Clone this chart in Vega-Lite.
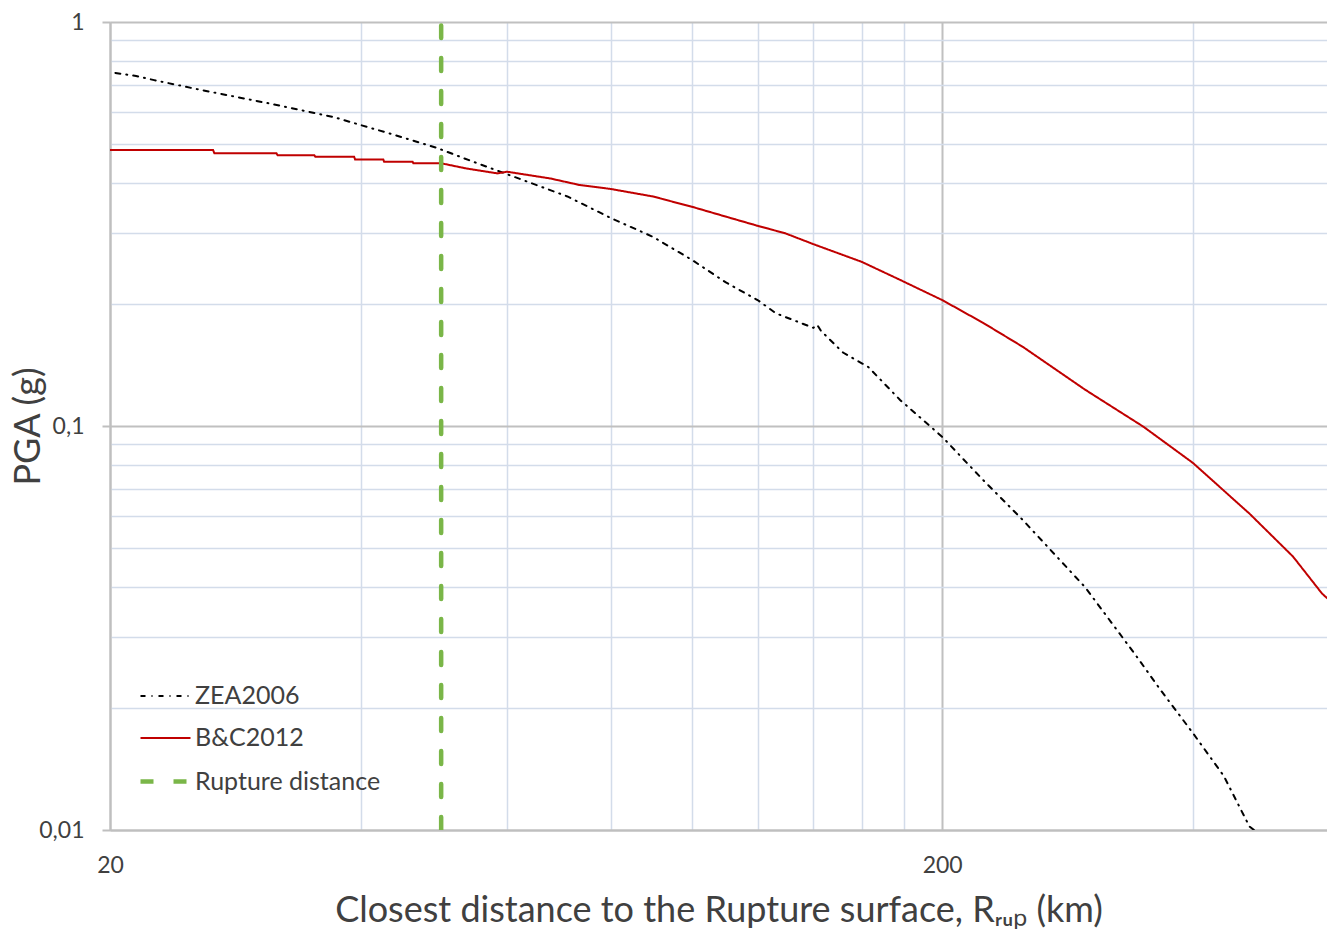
{
  "$schema": "https://vega.github.io/schema/vega-lite/v6.json",
  "width": 1217,
  "height": 808,
  "autosize": {"type": "none"},
  "padding": {"left": 110, "top": 22, "right": 0, "bottom": 99},
  "background": "white",
  "config": {"view": {"stroke": null}, "legend": {"rowPadding": 3}},
  "data": {"values": [
    {"s":"ZEA2006","d":20.3,"p":0.748},{"s":"ZEA2006","d":21.5,"p":0.735},{"s":"ZEA2006","d":22.6,"p":0.718},
    {"s":"ZEA2006","d":25.7,"p":0.679},{"s":"ZEA2006","d":30.9,"p":0.63},{"s":"ZEA2006","d":37.1,"p":0.582},
    {"s":"ZEA2006","d":40,"p":0.556},{"s":"ZEA2006","d":44,"p":0.525},{"s":"ZEA2006","d":49.4,"p":0.488},
    {"s":"ZEA2006","d":54,"p":0.455},{"s":"ZEA2006","d":60,"p":0.42},{"s":"ZEA2006","d":70.9,"p":0.37},
    {"s":"ZEA2006","d":80,"p":0.327},{"s":"ZEA2006","d":89.8,"p":0.294},{"s":"ZEA2006","d":100,"p":0.258},
    {"s":"ZEA2006","d":109.8,"p":0.227},{"s":"ZEA2006","d":120,"p":0.205},{"s":"ZEA2006","d":126.3,"p":0.19},
    {"s":"ZEA2006","d":140,"p":0.175},{"s":"ZEA2006","d":141.5,"p":0.178},{"s":"ZEA2006","d":143,"p":0.172},
    {"s":"ZEA2006","d":152,"p":0.152},{"s":"ZEA2006","d":163,"p":0.14},{"s":"ZEA2006","d":178,"p":0.116},
    {"s":"ZEA2006","d":200,"p":0.094},{"s":"ZEA2006","d":224,"p":0.0735},{"s":"ZEA2006","d":250,"p":0.0585},
    {"s":"ZEA2006","d":297,"p":0.0399},{"s":"ZEA2006","d":342,"p":0.027},{"s":"ZEA2006","d":366,"p":0.0222},
    {"s":"ZEA2006","d":400,"p":0.0174},{"s":"ZEA2006","d":436,"p":0.0136},{"s":"ZEA2006","d":468,"p":0.0102},
    {"s":"ZEA2006","d":474,"p":0.01},
    {"s":"B&C2012","d":20,"p":0.482},{"s":"B&C2012","d":26.6,"p":0.482},{"s":"B&C2012","d":26.7,"p":0.473},
    {"s":"B&C2012","d":31.7,"p":0.473},{"s":"B&C2012","d":31.8,"p":0.468},{"s":"B&C2012","d":35.2,"p":0.468},
    {"s":"B&C2012","d":35.3,"p":0.464},{"s":"B&C2012","d":39.3,"p":0.464},{"s":"B&C2012","d":39.4,"p":0.457},
    {"s":"B&C2012","d":42.6,"p":0.457},{"s":"B&C2012","d":42.7,"p":0.451},{"s":"B&C2012","d":46.2,"p":0.451},
    {"s":"B&C2012","d":46.3,"p":0.447},{"s":"B&C2012","d":50,"p":0.447},{"s":"B&C2012","d":53.6,"p":0.434},
    {"s":"B&C2012","d":58.4,"p":0.422},{"s":"B&C2012","d":60,"p":0.426},{"s":"B&C2012","d":67.6,"p":0.41},
    {"s":"B&C2012","d":73.3,"p":0.395},{"s":"B&C2012","d":80,"p":0.386},{"s":"B&C2012","d":89.8,"p":0.37},
    {"s":"B&C2012","d":100,"p":0.349},{"s":"B&C2012","d":109.8,"p":0.33},{"s":"B&C2012","d":120,"p":0.313},
    {"s":"B&C2012","d":129.5,"p":0.3},{"s":"B&C2012","d":140,"p":0.282},{"s":"B&C2012","d":152,"p":0.265},
    {"s":"B&C2012","d":160,"p":0.255},{"s":"B&C2012","d":178,"p":0.23},{"s":"B&C2012","d":200,"p":0.205},
    {"s":"B&C2012","d":224,"p":0.18},{"s":"B&C2012","d":250,"p":0.157},{"s":"B&C2012","d":297,"p":0.123},
    {"s":"B&C2012","d":349,"p":0.0996},{"s":"B&C2012","d":400,"p":0.0811},{"s":"B&C2012","d":468,"p":0.0607},
    {"s":"B&C2012","d":528,"p":0.0475},{"s":"B&C2012","d":572,"p":0.0385},{"s":"B&C2012","d":580,"p":0.0375},
    {"s":"Rupture distance","d":50,"p":0.01},{"s":"Rupture distance","d":50,"p":0.98}
  ]},
  "mark": {"type": "line", "clip": true, "strokeCap": "round"},
  "encoding": {
    "x": {
      "field": "d", "type": "quantitative",
      "scale": {"type": "log", "domain": [20, 580], "nice": false},
      "axis": {
        "values": [20, 40, 60, 80, 100, 120, 140, 160, 180, 200, 400],
        "format": "d",
        "labelExpr": "datum.value == 20 || datum.value == 200 ? datum.label : ''",
        "labelOverlap": false, "labelFlush": false,
        "labelFont": "Lato", "labelFontSize": 23, "labelColor": "#404040", "labelPadding": 24,
        "ticks": false,
        "domainColor": "#bfbfbf", "domainWidth": 2,
        "grid": true,
        "gridColor": {"condition": {"test": "datum.value == 20 || datum.value == 200", "value": "#c0c0c0"}, "value": "#d3dcea"},
        "gridWidth": {"condition": {"test": "datum.value == 20 || datum.value == 200", "value": 2}, "value": 1.5},
        "title": "Closest distance to the Rupture surface, Rᵣᵤₚ (km)",
        "titleFont": "Lato", "titleFontSize": 36, "titleFontWeight": "normal", "titleColor": "#404040",
        "titleY": 91, "titleBaseline": "alphabetic"
      }
    },
    "y": {
      "field": "p", "type": "quantitative",
      "scale": {"type": "log", "domain": [0.01, 1], "nice": false},
      "axis": {
        "values": [0.01,0.02,0.03,0.04,0.05,0.06,0.07,0.08,0.09,0.1,0.2,0.3,0.4,0.5,0.6,0.7,0.8,0.9,1],
        "labelExpr": "datum.value == 1 ? '1' : datum.value == 0.1 ? '0,1' : datum.value == 0.01 ? '0,01' : ''",
        "labelOverlap": false, "labelFlush": false,
        "labelFont": "Lato", "labelFontSize": 23, "labelColor": "#404040", "labelPadding": 18,
        "ticks": true, "tickSize": 8, "tickWidth": 2,
        "tickColor": {"condition": {"test": "datum.value == 1 || datum.value == 0.1 || datum.value == 0.01", "value": "#bfbfbf"}, "value": "transparent"},
        "domainColor": "#bfbfbf", "domainWidth": 2,
        "grid": true,
        "gridColor": {"condition": {"test": "datum.value == 1 || datum.value == 0.1 || datum.value == 0.01", "value": "#c0c0c0"}, "value": "#d3dcea"},
        "gridWidth": {"condition": {"test": "datum.value == 1 || datum.value == 0.1 || datum.value == 0.01", "value": 2}, "value": 1.5},
        "title": "PGA (g)",
        "titleFont": "Lato", "titleFontSize": 36, "titleFontWeight": "normal", "titleColor": "#404040",
        "titleX": -82, "titleY": 404, "titleAngle": -90, "titleAlign": "center", "titleBaseline": "middle"
      }
    },
    "color": {
      "field": "s", "type": "nominal",
      "scale": {"domain": ["ZEA2006", "B&C2012", "Rupture distance"], "range": ["#000000", "#c00000", "#7ab648"]},
      "legend": {"title": null, "orient": "none", "legendX": 28, "legendY": 648, "symbolType": "stroke", "symbolSize": 2500,
        "labelFont": "Lato", "labelFontSize": 25, "labelColor": "#404040", "labelOffset": 2, "labelLimit": 400}
    },
    "strokeDash": {
      "field": "s", "type": "nominal",
      "scale": {"domain": ["ZEA2006", "B&C2012", "Rupture distance"], "range": [[5, 6, 1, 6], [1, 0], [13, 20]]},
      "legend": {"title": null, "orient": "none", "legendX": 28, "legendY": 648, "symbolType": "stroke", "symbolSize": 2500,
        "labelFont": "Lato", "labelFontSize": 25, "labelColor": "#404040", "labelOffset": 2, "labelLimit": 400}
    },
    "strokeWidth": {
      "field": "s", "type": "nominal",
      "scale": {"type": "ordinal", "domain": ["ZEA2006", "B&C2012", "Rupture distance"], "range": [2, 2, 4.5]},
      "legend": {"title": null, "orient": "none", "legendX": 28, "legendY": 648, "symbolType": "stroke", "symbolSize": 2500,
        "labelFont": "Lato", "labelFontSize": 25, "labelColor": "#404040", "labelOffset": 2, "labelLimit": 400}
    }
  }
}
